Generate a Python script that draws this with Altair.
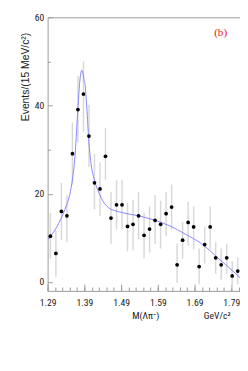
import altair as alt
import pandas as pd

# ---- data ----
bin_centers = [1.2975, 1.3125, 1.3275, 1.3425, 1.3575, 1.3725, 1.3875, 1.4025, 1.4175,
               1.4325, 1.4475, 1.4625, 1.4775, 1.4925, 1.5075, 1.5225, 1.5375, 1.5525,
               1.5675, 1.5825, 1.5975, 1.6125, 1.6275, 1.6425, 1.6575, 1.6725, 1.6875,
               1.7025, 1.7175, 1.7325, 1.7475, 1.7625, 1.7775, 1.7925, 1.8075]
counts = [10.4, 6.5, 16.0, 15.0, 29.1, 39.1, 42.6, 33.1, 22.5, 21.1, 28.5, 14.5,
          17.5, 17.5, 12.6, 13.1, 15.0, 10.6, 12.0, 14.0, 13.1, 15.5, 17.0, 3.9,
          9.5, 13.5, 12.5, 3.5, 8.5, 12.5, 5.5, 3.9, 5.5, 1.4, 2.5]
err_lo = [5.3, 1.2, 9.5, 9.1, 22.1, 31.7, 34.2, 26.0, 16.5, 15.0, 23.2, 8.7,
          11.9, 11.9, 7.0, 7.2, 9.7, 5.3, 6.7, 8.7, 7.6, 10.4, 11.9, -0.2,
          5.3, 8.3, 7.4, -0.5, 4.2, 7.4, 1.9, 0.5, 1.9, -1.5, -0.5]
err_hi = [15.7, 11.7, 22.5, 19.7, 36.1, 46.7, 50.0, 40.2, 29.0, 27.1, 34.9, 20.4,
          23.1, 23.1, 17.9, 18.6, 20.4, 15.7, 17.2, 19.7, 18.4, 20.4, 22.1, 8.7,
          13.6, 18.2, 17.2, 7.6, 12.6, 17.2, 9.0, 7.6, 8.7, 4.8, 5.5]

fit_mass = [1.290, 1.300, 1.310, 1.320, 1.332, 1.342, 1.350, 1.358, 1.3645, 1.369,
            1.373, 1.377, 1.3805, 1.383, 1.386, 1.3895, 1.3915, 1.395, 1.398, 1.4005,
            1.403, 1.4084, 1.4171, 1.4287, 1.4418, 1.455, 1.4768, 1.4945, 1.538,
            1.582, 1.626, 1.666, 1.709, 1.753, 1.797, 1.815]
fit_value = [9.6, 10.6, 11.8, 13.3, 15.4, 17.6, 19.7, 23.6, 28.5, 34.5,
             40.0, 45.0, 47.4, 48.0, 47.4, 45.5, 45.0, 41.5, 37.8, 34.0,
             31.0, 26.7, 23.2, 20.4, 18.2, 16.9, 16.1, 15.7, 15.0,
             14.0, 12.6, 10.8, 8.7, 5.5, 2.3, 0.9]

x_major = [1.29, 1.39, 1.49, 1.59, 1.69, 1.79]
x_minor = [1.29, 1.31, 1.33, 1.35, 1.37, 1.39, 1.41, 1.43, 1.45, 1.47, 1.49, 1.51,
           1.53, 1.55, 1.57, 1.59, 1.61, 1.63, 1.65, 1.67, 1.69, 1.71, 1.73, 1.75,
           1.77, 1.79, 1.81]
y_major = [0, 20, 40, 60]
y_minor = [10, 30, 50]

label_text = ["(b)"]
label_x = [1.761]
label_y = [56.5]
y_title = "Events/(15 MeV/c²)"

# ---- tables ----
pts = pd.DataFrame({"m": bin_centers, "n": counts, "lo": err_lo, "hi": err_hi})
fit = pd.DataFrame({"m": fit_mass, "v": fit_value})
lab = pd.DataFrame({"m": label_x, "v": label_y, "t": label_text})
ytl = pd.DataFrame({"t": [y_title]})

W, H = 199, 283
xs = alt.Scale(domain=[1.29, 1.8137], nice=False, zero=False)
ys = alt.Scale(domain=[-2, 60], nice=False, zero=False)
NARROW = "Liberation Sans Narrow, Arial Narrow, Roboto Condensed, Liberation Sans, sans-serif"
GRAY = "#9a9a9a"

# error bars: main axes (labels, domain, titles)
ax_x_main = alt.Axis(orient="bottom", values=x_major, format=".2f", ticks=False, tickSize=0,
                     domain=True, domainColor=GRAY, domainWidth=1, grid=False,
                     labelFont=NARROW, labelFontSize=10, labelColor="#222", labelPadding=7,
                     labelFlush=False, labelOverlap=False,
                     title="M(Λπ⁻)", titleFont=NARROW, titleFontSize=10, titleFontWeight="normal",
                     titleColor="#222", titleX=101, titleY=26, titleAlign="center",
                     titleBaseline="middle")
ax_y_main = alt.Axis(orient="left", values=y_major, ticks=False, tickSize=0, domain=True,
                     domainColor=GRAY, domainWidth=1, grid=False,
                     labelFont=NARROW, labelFontSize=10, labelColor="#222", labelPadding=4,
                     labelFlush=False, labelOverlap=False, title=None)

bars = alt.Chart(pts).mark_rule(color="#d8d8d8", strokeWidth=1.5, clip=True).encode(
    x=alt.X("m:Q", scale=xs, axis=ax_x_main),
    y=alt.Y("lo:Q", scale=ys, axis=ax_y_main),
    y2="hi:Q",
)

# fit curve: major inward ticks
ax_x_maj = alt.Axis(orient="bottom", values=x_major, offset=-7, tickSize=7, ticks=True,
                    tickColor=GRAY, domain=False, labels=False, grid=False,
                    title="GeV/c²", titleFont=NARROW, titleFontSize=10, titleFontWeight="normal",
                    titleColor="#222", titleX=175, titleY=33, titleAlign="center",
                    titleBaseline="middle")
ax_y_maj = alt.Axis(orient="left", values=y_major, offset=-5, tickSize=5, ticks=True,
                    tickColor=GRAY, domain=False, labels=False, grid=False, title=None)

curve = alt.Chart(fit).mark_line(color="#8484ff", strokeWidth=1, interpolate="monotone",
                                 clip=True).encode(
    x=alt.X("m:Q", scale=xs, axis=ax_x_maj),
    y=alt.Y("v:Q", scale=ys, axis=ax_y_maj),
)

# points: minor inward ticks
ax_x_min = alt.Axis(orient="bottom", values=x_minor, offset=-4, tickSize=4, ticks=True,
                    tickColor=GRAY, domain=False, labels=False, grid=False, title=None)
ax_y_min = alt.Axis(orient="left", values=y_minor, offset=-3, tickSize=3, ticks=True,
                    tickColor=GRAY, domain=False, labels=False, grid=False, title=None)

dots = alt.Chart(pts).mark_circle(color="black", size=15, opacity=1).encode(
    x=alt.X("m:Q", scale=xs, axis=ax_x_min),
    y=alt.Y("n:Q", scale=ys, axis=ax_y_min),
)

# panel label + top frame line
ax_x_top = alt.Axis(orient="top", domain=True, domainColor=GRAY, ticks=False, labels=False,
                    grid=False, title=None)
panel = alt.Chart(lab).mark_text(color="#ee1111", font="Liberation Serif", fontSize=11.5,
                                 align="center", baseline="middle").encode(
    x=alt.X("m:Q", scale=xs, axis=ax_x_top),
    y=alt.Y("v:Q", scale=ys, axis=None),
    text="t:N",
)

# rotated y-axis title (placed near the top like the original)
ytitle = alt.Chart(ytl).mark_text(font="Liberation Sans", fontSize=10.7, color="#222",
                                  angle=270, align="right", baseline="alphabetic").encode(
    x=alt.value(-19), y=alt.value(16), text="t:N",
)

chart = alt.layer(bars, curve, dots, panel, ytitle).resolve_axis(
    x="independent", y="independent"
).properties(
    width=W, height=H,
    autosize=alt.AutoSizeParams(type="none"),
    padding={"left": 41, "top": 4, "right": 0, "bottom": 40},
).configure_view(strokeWidth=0)

chart.save("out.html", embed_options={"renderer": "svg", "actions": False})
